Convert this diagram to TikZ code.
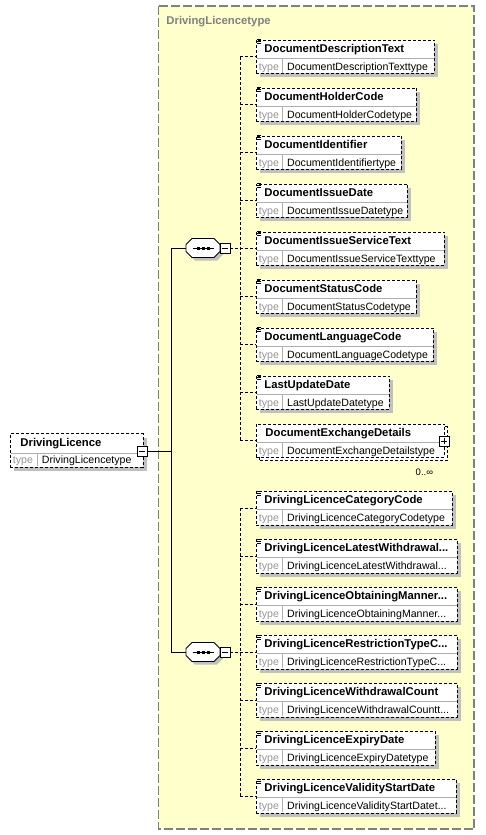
\documentclass[tikz,border=0pt]{standalone}
\usepackage{fontspec}
\setmainfont{Liberation Sans}
\usetikzlibrary{calc, shadows}
\definecolor{typebg}{RGB}{255,255,204}
\definecolor{framegray}{RGB}{128,128,128}
\definecolor{shadegray}{RGB}{192,192,192}
\definecolor{sepgray}{RGB}{175,175,175}
\definecolor{labelgray}{RGB}{150,150,150}
\newcommand{\elid}{...}
\newcommand{\octagon}{+(-17,-3.5) -- +(-11,-9.5) -- +(11,-9.5) -- +(17,-3.5)
  -- +(17,3.5) -- +(11,9.5) -- +(-11,9.5) -- +(-17,3.5) -- cycle}

\begin{document}
\begin{tikzpicture}[x=1pt, y=-1pt, line width=0.9pt,
  elbox/.style={draw, dash pattern=on 3pt off 2pt, fill=white, anchor=north west,
    inner sep=0, minimum height=33.5},
  shadowed/.style={drop shadow={shadow xshift=4pt, shadow yshift=-4pt, fill=shadegray, opacity=1}},
  nametext/.style={font=\fontsize{11.3}{13}\selectfont\bfseries, inner sep=0, anchor=base west},
  typetext/.style={font=\fontsize{10.6}{12}\selectfont, inner sep=0, anchor=base west},
  typelabel/.style={typetext, text=labelgray},
  rowline/.style={sepgray, line width=0.8pt},
  dashline/.style={dash pattern=on 3pt off 2pt},
  togglebox/.style={draw, fill=white, minimum size=10, inner sep=0, line width=0.8pt},
  seqnode/.style={minimum width=34, minimum height=19, inner sep=0}]
  \useasboundingbox (0,0) rectangle (485,835);

  % complex type frame
  \draw[framegray, fill=typebg, line width=1.2pt, dash pattern=on 9pt off 3pt]
    (158.5,6) rectangle (474,829);
  \node[nametext, text=framegray] (ttl) at (166,24) {DrivingLicencetype};

  % root element
  \node[elbox, shadowed, minimum width=132.7, minimum height=33.4] (root) at (10,433.3) {};
  \draw[rowline] (10.5,453.3) -- (142.2,453.3);
  \draw[rowline] (37.7,453.3) -- (37.7,466.3);
  \node[nametext] (rootn) at (20,446.5) {DrivingLicence};
  \node[typelabel] (rootl) at (12.5,463.8) {type};
  \node[typetext] (roott) at (41.5,463.8) {DrivingLicencetype};
  \node[togglebox] (mr) at (142,451) {};
  \draw[line width=0.8pt] (mr.center) ++(-3,0) -- ++(6,0);

  % the two sequences
  \foreach \s/\yy in {1/248, 2/652}{
    \node[seqnode] (s\s) at (203,\yy) {};
    \fill[shadegray] (206,\yy+3) \octagon;
    \draw[fill=white] (s\s.center) \octagon;
    \draw (s\s.center) ++(-10.5,0) -- ++(21,0);
    \foreach \d in {-5,0,5}
      \fill ($(s\s.center)+(\d,0)$) +(-1.5,-1.5) rectangle +(1.5,1.5);
    \node[togglebox] (m\s) at (225,\yy) {};
    \draw[line width=0.8pt] (m\s.center) ++(-3,0) -- ++(6,0);
  }

  % elements of the first sequence
  \foreach \i/\w/\nm/\tp in {1/178/DocumentDescriptionText/DocumentDescriptionTexttype,
      2/160/DocumentHolderCode/DocumentHolderCodetype,
      3/145/DocumentIdentifier/DocumentIdentifiertype,
      4/151/DocumentIssueDate/DocumentIssueDatetype,
      5/188/DocumentIssueServiceText/DocumentIssueServiceTexttype,
      6/160/DocumentStatusCode/DocumentStatusCodetype,
      7/177/DocumentLanguageCode/DocumentLanguageCodetype,
      8/133/LastUpdateDate/LastUpdateDatetype}{
    \pgfmathsetmacro\y{39.5+48*(\i-1)}
    \node[elbox, shadowed, minimum width=\w] (e\i) at (256,\y) {};
    \draw[rowline] (256.5,\y+18.5) -- (255.5+\w,\y+18.5);
    \draw[rowline] (282.7,\y+18.5) -- (282.7,\y+33);
    \foreach \k in {0,2,4}
      \draw[line width=0.8pt] (256.5,\y+\k) -- ++(4.5,0);
    \node[nametext] (n\i) at (264,\y+12.8) {\nm};
    \node[typelabel] (l\i) at (258.5,\y+30.5) {type};
    \node[typetext] (t\i) at (286.7,\y+30.5) {\tp};
  }

  % repeating element with children
  \draw[dash pattern=on 3pt off 2pt, fill=white] (259,426.5) rectangle (447,460.5);
  \node[elbox, minimum width=188, minimum height=33.5] (e9) at (256,423.5) {};
  \draw[rowline] (256.5,442) -- (443.5,442);
  \draw[rowline] (282.7,442) -- (282.7,456.5);
  \node[nametext] (n9) at (265,436.3) {DocumentExchangeDetails};
  \node[typelabel] (l9) at (258.5,454) {type};
  \node[typetext] (t9) at (286.7,454) {DocumentExchangeDetailstype};
  \node[togglebox] (p9) at (444,441) {};
  \draw[line width=0.8pt] (p9.center) ++(-3,0) -- ++(6,0);
  \draw[line width=0.8pt] (p9.center) ++(0,-3) -- ++(0,6);
  \node[typetext, anchor=base east, font=\fontsize{9.5}{11}\selectfont] (q9) at (433.5,475) {0..∞};

  % elements of the second sequence
  \foreach \i/\w/\nm/\tp in {10/196/DrivingLicenceCategoryCode/DrivingLicenceCategoryCodetype,
      11/201/DrivingLicenceLatestWithdrawal\elid/DrivingLicenceLatestWithdrawal\elid,
      12/201/DrivingLicenceObtainingManner\elid/DrivingLicenceObtainingManner\elid,
      13/201/DrivingLicenceRestrictionTypeC\elid/DrivingLicenceRestrictionTypeC\elid,
      14/201/DrivingLicenceWithdrawalCount/DrivingLicenceWithdrawalCountt\elid,
      15/179/DrivingLicenceExpiryDate/DrivingLicenceExpiryDatetype,
      16/200/DrivingLicenceValidityStartDate/DrivingLicenceValidityStartDatet\elid}{
    \pgfmathsetmacro\y{491+48*(\i-10)}
    \node[elbox, shadowed, minimum width=\w] (e\i) at (256,\y) {};
    \draw[rowline] (256.5,\y+18.5) -- (255.5+\w,\y+18.5);
    \draw[rowline] (282.7,\y+18.5) -- (282.7,\y+33);
    \foreach \k in {0,2,4}
      \draw[line width=0.8pt] (256.5,\y+\k) -- ++(4.5,0);
    \node[nametext] (n\i) at (264,\y+12.8) {\nm};
    \node[typelabel] (l\i) at (258.5,\y+30.5) {type};
    \node[typetext] (t\i) at (286.7,\y+30.5) {\tp};
  }

  % connectors
  \coordinate (trunk) at (171,451);
  \coordinate (bus1) at (240,248);
  \coordinate (bus2) at (240,652);
  \draw (mr.east) -- (trunk);
  \draw (s1.west) -- (s1.west -| trunk) -- (s2.west -| trunk) -- (s2.west);
  \draw[dashline] (m1.east) -- (bus1);
  \draw[dashline] (m2.east) -- (bus2);
  \draw[dashline] (e1.west -| bus1) -- (e9.west -| bus1);
  \draw[dashline] (e10.west -| bus2) -- (e16.west -| bus2);
  \foreach \i in {1,...,16}
    \draw[dashline] (e\i.west -| bus1) -- (e\i.west);
\end{tikzpicture}
\end{document}
